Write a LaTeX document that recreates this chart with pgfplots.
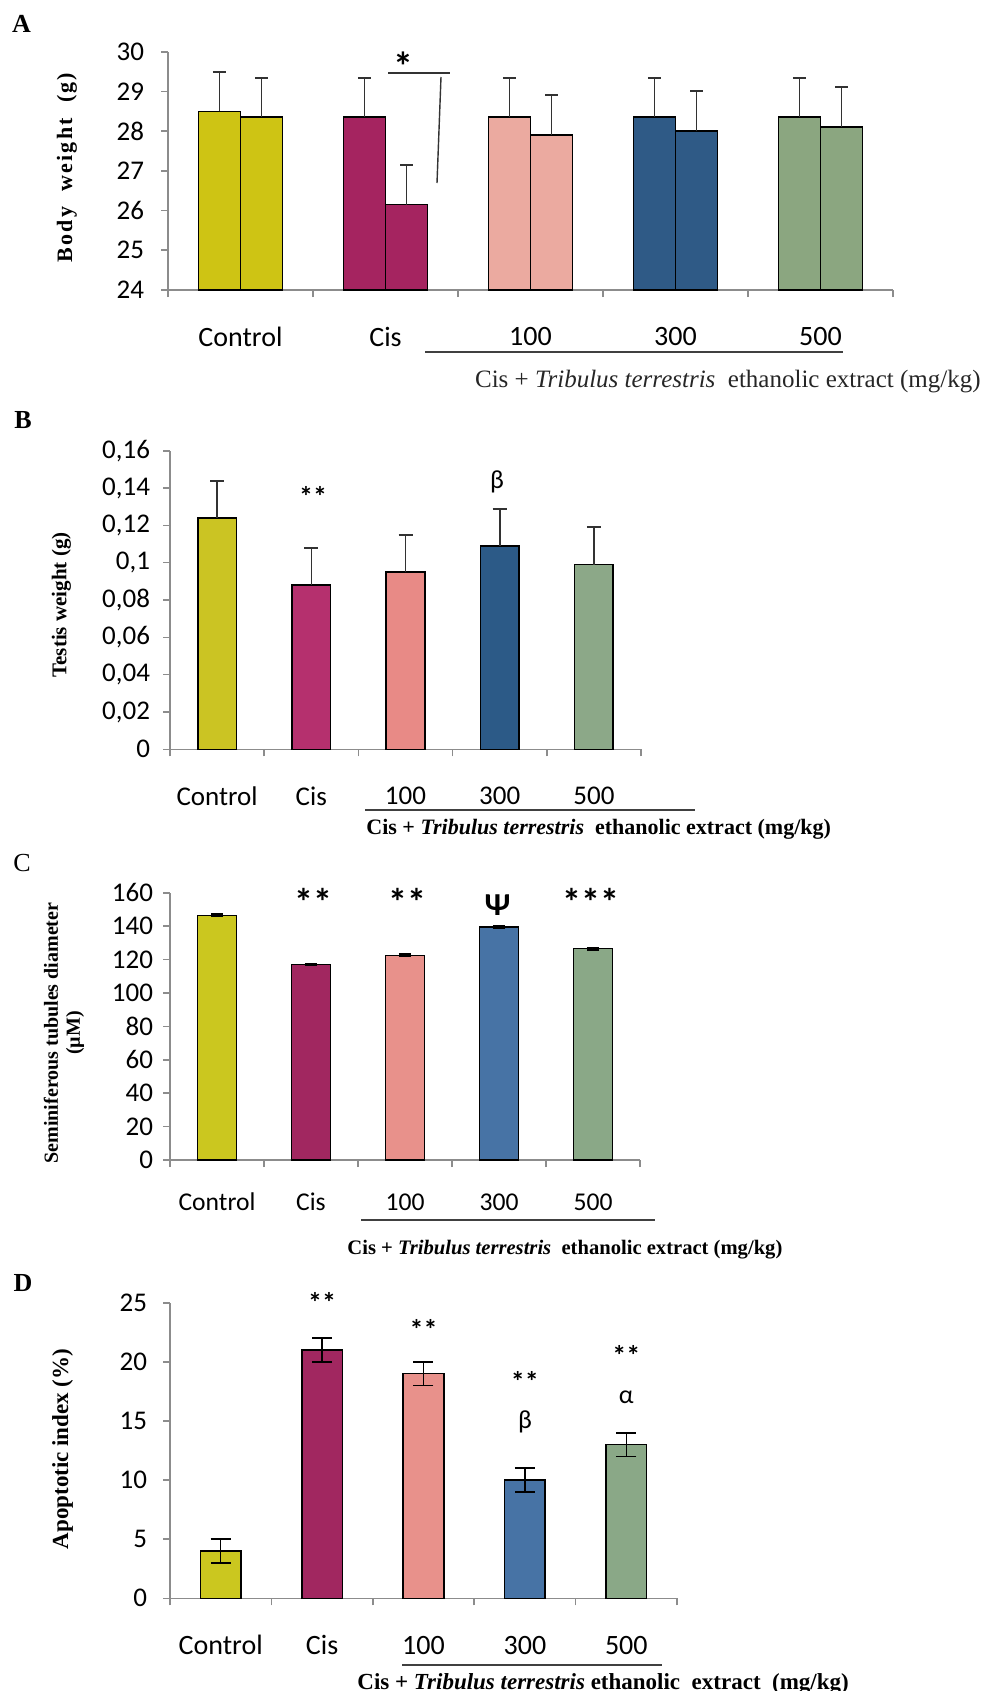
\documentclass[border=0pt]{standalone}
\usepackage{pgfplots}
\pgfplotsset{compat=1.18}
\usepackage{fontspec}
\setmainfont{Liberation Serif}
\newfontfamily\carlito{Carlito}
\newfontfamily\spacedserif[LetterSpace=10]{Liberation Serif}
\definecolor{axgray}{RGB}{140,140,140}
\definecolor{errgray}{RGB}{50,50,50}
\definecolor{cAy}{RGB}{206,196,20}
\definecolor{cAm}{RGB}{165,36,96}
\definecolor{cAp}{RGB}{235,170,160}
\definecolor{cAb}{RGB}{47,90,134}
\definecolor{cAg}{RGB}{139,166,128}
\definecolor{cBy}{RGB}{203,196,35}
\definecolor{cBm}{RGB}{181,48,110}
\definecolor{cBp}{RGB}{232,138,134}
\definecolor{cBb}{RGB}{44,90,135}
\definecolor{cBg}{RGB}{140,168,136}
\definecolor{cCy}{RGB}{203,199,31}
\definecolor{cCm}{RGB}{161,39,96}
\definecolor{cCp}{RGB}{232,145,139}
\definecolor{cCb}{RGB}{71,115,165}
\definecolor{cCg}{RGB}{138,168,135}
\pgfplotsset{
  panel/.style={scale only axis, anchor=south west,
    axis x line*=bottom, axis y line*=left,
    xmin=-0.5, xmax=4.5, xtick={-0.5,0.5,...,4.5}, xticklabels={},
    tick align=outside, major tick length=3.5pt,
    axis line style={draw=axgray, line width=0.8pt},
    major tick style={draw=axgray, line width=0.8pt},
    yticklabel style={font=\fontsize{13.5}{14}\selectfont\carlito},
    /pgf/number format/assume math mode=true},
  bars/.style={ybar, bar shift=0pt, draw=black, line width=0.75pt},
  errp/.style={error bars/.cd, y dir=plus, y explicit,
    error bar style={line width=0.8pt, draw=errgray},
    error mark options={rotate=90, mark size=#1, line width=1pt, draw=errgray}},
  errb/.style={error bars/.cd, y dir=both, y explicit,
    error bar style={line width=0.75pt, draw=black},
    error mark options={rotate=90, mark size=#1, line width=0.9pt, draw=black}},
}
\newcommand\catA{\fontsize{14}{16}\selectfont\carlito}
\newcommand\catB{\fontsize{13.5}{16}\selectfont\carlito}
\newcommand\catC{\fontsize{12.8}{16}\selectfont\carlito}
\newcommand\catD{\fontsize{14}{16}\selectfont\carlito}
\begin{document}
\begin{tikzpicture}[x=1pt,y=1pt]

% ================= Panel A =================
\node[font=\bfseries\fontsize{13}{14}\selectfont] at (10.75,-11.75) {A};
\node[rotate=90, font=\spacedserif\bfseries\fontsize{11}{12}\selectfont] at (33.5,-83.75) {Body\ \ weight\ \ (g)};
\begin{axis}[panel, at={(84pt,-145pt)}, width=362.5pt, height=119.15pt,
  ymin=24, ymax=30, ytick={24,25,26,27,28,29,30}, yticklabel shift=5pt]
\addplot[bars, bar width=0.29, fill=cAy, errp=3.25pt] coordinates {(-0.145,28.5) +- (0,1.0) (0.145,28.35) +- (0,1.0)};
\addplot[bars, bar width=0.29, fill=cAm, errp=3.25pt] coordinates {(0.855,28.35) +- (0,1.0) (1.145,26.15) +- (0,1.0)};
\addplot[bars, bar width=0.29, fill=cAp, errp=3.25pt] coordinates {(1.855,28.35) +- (0,1.0) (2.145,27.9) +- (0,1.0)};
\addplot[bars, bar width=0.29, fill=cAb, errp=3.25pt] coordinates {(2.855,28.35) +- (0,1.0) (3.145,28.0) +- (0,1.0)};
\addplot[bars, bar width=0.29, fill=cAg, errp=3.25pt] coordinates {(3.855,28.35) +- (0,1.0) (4.145,28.1) +- (0,1.0)};
\end{axis}
\foreach \x/\t in {120.25/Control,192.75/Cis,265.25/100,337.75/300,410.25/500}
  \node[font=\catA] at (\x,-168.5) {\t};
\draw[line width=1pt, draw=black!75] (212.5,-176) -- (421.5,-176);
\node[anchor=east, inner sep=0pt, font=\fontsize{12.5}{14}\selectfont, text=black!85] at (490.5,-191)
  {Cis + \textit{Tribulus terrestris}\ \ ethanolic extract (mg/kg)};
\node[font=\fontsize{20}{20}\selectfont\carlito\bfseries] at (201.5,-33) {*};
\draw[line width=1.4pt, black!80] (194,-36.5) -- (225,-36.5);
\draw[line width=0.7pt, black!80] (220.5,-38.5) -- (218.5,-91.5);

% ================= Panel B =================
\node[font=\bfseries\fontsize{13}{14}\selectfont] at (11.5,-210) {B};
\node[rotate=90, font=\bfseries\fontsize{10.5}{12}\selectfont] at (30.75,-302.5) {Testis weight (g)};
\begin{axis}[panel, at={(85pt,-374.65pt)}, width=235.5pt, height=149.3pt,
  ymin=0, ymax=0.16, ytick={0,0.02,0.04,0.06,0.08,0.1,0.12,0.14,0.16},
  yticklabel style={/pgf/number format/.cd, use comma, fixed, precision=2},
  yticklabel shift=3pt]
\addplot[bars, bar width=0.41, fill=cBy, errp=3.5pt] coordinates {(0,0.124) +- (0,0.02)};
\addplot[bars, bar width=0.41, fill=cBm, errp=3.5pt] coordinates {(1,0.088) +- (0,0.02)};
\addplot[bars, bar width=0.41, fill=cBp, errp=3.5pt] coordinates {(2,0.095) +- (0,0.02)};
\addplot[bars, bar width=0.41, fill=cBb, errp=3.5pt] coordinates {(3,0.109) +- (0,0.02)};
\addplot[bars, bar width=0.41, fill=cBg, errp=3.5pt] coordinates {(4,0.099) +- (0,0.02)};
\end{axis}
\foreach \x/\t in {108.55/Control,155.65/Cis,202.75/100,249.85/300,296.95/500}
  \node[font=\catB] at (\x,-398) {\t};
\draw[line width=1pt, draw=black!75] (182.5,-405) -- (347.5,-405);
\node[anchor=west, inner sep=0pt, font=\bfseries\fontsize{11}{12}\selectfont] at (183,-414.5)
  {Cis + \textit{Tribulus terrestris}\ \ ethanolic extract (mg/kg)};
\node[font=\fontsize{14}{14}\selectfont\carlito\bfseries] at (156.5,-248) {**};
\node[font=\fontsize{13}{14}\selectfont\carlito] at (248.5,-241) {β};

% ================= Panel C =================
\node[font=\fontsize{13}{14}\selectfont] at (11,-431.5) {C};
\node[rotate=90, align=center, font=\bfseries\fontsize{10}{11}\selectfont] at (32,-516.5) {Seminiferous tubules diameter\\(µM)};
\begin{axis}[panel, at={(85pt,-580pt)}, width=235pt, height=133.65pt,
  ymin=0, ymax=160, ytick={0,20,...,160}, yticklabel shift=1.5pt]
\addplot[bars, bar width=0.415, fill=cCy, errb=3pt] coordinates {(0,146.5) +- (0,0.6)};
\addplot[bars, bar width=0.415, fill=cCm, errb=3pt] coordinates {(1,117) +- (0,0.6)};
\addplot[bars, bar width=0.415, fill=cCp, errb=3pt] coordinates {(2,122.5) +- (0,0.6)};
\addplot[bars, bar width=0.415, fill=cCb, errb=3pt] coordinates {(3,139.5) +- (0,0.6)};
\addplot[bars, bar width=0.415, fill=cCg, errb=3pt] coordinates {(4,126.5) +- (0,0.6)};
\end{axis}
\foreach \x/\t in {108.5/Control,155.5/Cis,202.5/100,249.5/300,296.5/500}
  \node[font=\catC] at (\x,-601) {\t};
\draw[line width=1pt, draw=black!75] (180.5,-610) -- (327.5,-610);
\node[anchor=west, inner sep=0pt, font=\bfseries\fontsize{10.3}{12}\selectfont] at (173.5,-625)
  {Cis + \textit{Tribulus terrestris}\ \ ethanolic extract (mg/kg)};
\foreach \x/\t in {156.5/**,203.5/**,295.5/***}
  \node[font=\fontsize{19}{19}\selectfont\carlito\bfseries] at (\x,-451) {\t};
\node[font=\fontsize{16}{16}\selectfont\carlito\bfseries] at (248.75,-452.5) {Ψ};

% ================= Panel D =================
\node[font=\bfseries\fontsize{13}{14}\selectfont] at (11.5,-641.5) {D};
\node[rotate=90, font=\bfseries\fontsize{11.5}{12}\selectfont] at (31.25,-724.5) {Apoptotic index (\%)};
\begin{axis}[panel, at={(85pt,-799.15pt)}, width=253.5pt, height=147.8pt,
  ymin=0, ymax=25, ytick={0,5,...,25}, yticklabel shift=4.5pt]
\addplot[bars, bar width=0.4, fill=cCy, errb=5pt] coordinates {(0,4) +- (0,1)};
\addplot[bars, bar width=0.4, fill=cCm, errb=5pt] coordinates {(1,21) +- (0,1)};
\addplot[bars, bar width=0.4, fill=cCp, errb=5pt] coordinates {(2,19) +- (0,1)};
\addplot[bars, bar width=0.4, fill=cCb, errb=5pt] coordinates {(3,10) +- (0,1)};
\addplot[bars, bar width=0.4, fill=cCg, errb=5pt] coordinates {(4,13) +- (0,1)};
\end{axis}
\foreach \x/\t in {110.35/Control,161.05/Cis,211.75/100,262.45/300,313.15/500}
  \node[font=\catD] at (\x,-822.5) {\t};
\draw[line width=1pt, draw=black!75] (201,-832.5) -- (331,-832.5);
\node[anchor=west, inner sep=0pt, font=\bfseries\fontsize{11.5}{12}\selectfont] at (178.5,-842)
  {Cis + \textit{Tribulus terrestris} ethanolic\ \ extract\ \ (mg/kg)};
\foreach \x/\y in {161.05/-651,211.75/-664.5,262.45/-690.5,313.15/-677.5}
  \node[font=\fontsize{14}{14}\selectfont\carlito\bfseries] at (\x,\y) {**};
\node[font=\fontsize{13}{14}\selectfont\carlito] at (262.45,-711) {β};
\node[font=\fontsize{13}{14}\selectfont\carlito] at (313.15,-698.5) {α};

\pgfresetboundingbox
\path (0,0) rectangle (490.5,-845.5);
\end{tikzpicture}
\end{document}
